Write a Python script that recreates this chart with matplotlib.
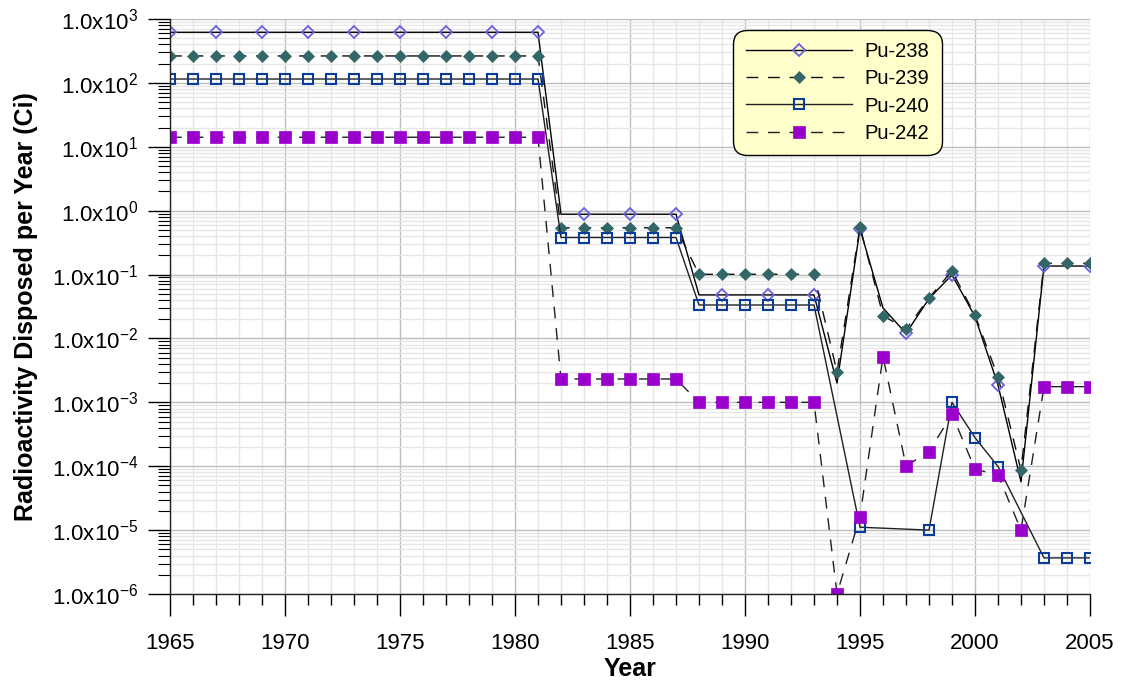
import matplotlib
matplotlib.use('Agg')
import matplotlib.pyplot as plt
from matplotlib.ticker import FixedLocator, LogLocator, FuncFormatter, MultipleLocator, NullFormatter
import numpy as np

plt.rcParams['font.family'] = ['Liberation Sans', 'DejaVu Sans']
plt.rcParams['mathtext.fontset'] = 'custom'
plt.rcParams['mathtext.rm'] = 'Liberation Sans'
plt.rcParams['mathtext.default'] = 'regular'

years = list(range(1965, 2006))

# 1965-1981 (17), 1982-1987 (6), 1988-1993 (6), 1994-2005 (12)
pu238 = [620, 620, 620, 620, 620, 620, 620, 620, 620, 620, 620, 620, 620, 620, 620, 620, 620,
         0.88, 0.88, 0.88, 0.88, 0.88, 0.88,
         0.048, 0.048, 0.048, 0.048, 0.048, 0.048,
         0.0020, 0.52, 0.030, 0.012, 0.042, 0.099, 0.022, 0.00187, 0.000057, 0.136, 0.136, 0.136]
pu239 = [264, 264, 264, 264, 264, 264, 264, 264, 264, 264, 264, 264, 264, 264, 264, 264, 264,
         0.54, 0.54, 0.54, 0.54, 0.54, 0.54,
         0.101, 0.101, 0.101, 0.101, 0.101, 0.101,
         0.0030, 0.56, 0.0228, 0.0139, 0.043, 0.114, 0.023, 0.0025, 0.000087, 0.150, 0.150, 0.150]
pu240 = [115, 115, 115, 115, 115, 115, 115, 115, 115, 115, 115, 115, 115, 115, 115, 115, 115,
         0.38, 0.38, 0.38, 0.38, 0.38, 0.38,
         0.0334, 0.0334, 0.0334, 0.0334, 0.0334, 0.0334,
         None, 1.11e-5, None, None, 1.0e-5, 1.0e-3, 2.8e-4, 9.9e-5, None, 3.67e-6, 3.67e-6, 3.67e-6]
pu242 = [14.1, 14.1, 14.1, 14.1, 14.1, 14.1, 14.1, 14.1, 14.1, 14.1, 14.1, 14.1, 14.1, 14.1, 14.1, 14.1, 14.1,
         0.00232, 0.00232, 0.00232, 0.00232, 0.00232, 0.00232,
         0.0010, 0.0010, 0.0010, 0.0010, 0.0010, 0.0010,
         1.0e-6, 1.63e-5, 5.2e-3, 1.01e-4, 1.69e-4, 6.5e-4, 9.0e-5, 7.3e-5, 1.0e-5, 1.76e-3, 1.76e-3, 1.76e-3]

series_names = ['Pu-238', 'Pu-239', 'Pu-240', 'Pu-242']
x_ticks = [1965, 1970, 1975, 1980, 1985, 1990, 1995, 2000, 2005]
y_exponents = [3, 2, 1, 0, -1, -2, -3, -4, -5, -6]


def valid(xs, ys):
    pts = [(x, y) for x, y in zip(xs, ys) if y is not None]
    return [p[0] for p in pts], [p[1] for p in pts]


fig = plt.figure(figsize=(11.26, 6.81), dpi=100)
ax = fig.add_axes([170 / 1126, 1 - 594 / 681, 920 / 1126, 575 / 681])

dash = (0, (8.5, 7))
ax.plot(*valid(years, pu238), color='#000000', lw=1.0, marker='D', ms=5.8, mfc='none',
        mec='#6a60dc', mew=1.3, markevery=2, label=series_names[0])
ax.plot(*valid(years, pu239), color='#111111', lw=1.0, ls=dash, marker='D', ms=6.2,
        mfc='#336666', mec='#336666', mew=0.5, label=series_names[1])
ax.plot(*valid(years, pu240), color='#202020', lw=1.0, marker='s', ms=7.4, mfc='none',
        mec='#0a3c9c', mew=1.5, label=series_names[2])
ax.plot(*valid(years, pu242), color='#202020', lw=1.0, ls=dash, marker='s', ms=8.0,
        mfc='#9900cc', mec='#9900cc', mew=0.5, label=series_names[3])

ax.set_yscale('log')
ax.set_xlim(1965, 2005)
ax.set_ylim(10.0 ** min(y_exponents), 10.0 ** max(y_exponents))

ax.xaxis.set_major_locator(FixedLocator(x_ticks))
ax.xaxis.set_minor_locator(MultipleLocator(1))
ax.yaxis.set_major_locator(FixedLocator([10.0 ** e for e in y_exponents]))
ax.yaxis.set_minor_locator(LogLocator(base=10, subs=np.arange(2, 10)))
ax.yaxis.set_minor_formatter(NullFormatter())
ax.yaxis.set_major_formatter(FuncFormatter(
    lambda v, p: r'$\mathregular{1.0x10^{%d}}$' % int(round(np.log10(v)))))

ax.grid(which='major', color='#bdbdbd', lw=1.0)
ax.grid(which='minor', color='#e6e6e6', lw=1.0)
ax.set_axisbelow(True)

for s in ['top', 'right']:
    ax.spines[s].set_visible(False)
for s in ['left', 'bottom']:
    ax.spines[s].set_color('#222222')
    ax.spines[s].set_linewidth(1.0)

ax.tick_params(axis='x', which='major', length=16, width=1, pad=12, labelsize=16, colors='black')
ax.tick_params(axis='x', which='minor', length=8, width=1)
ax.tick_params(axis='y', which='major', length=16, width=1, pad=7, labelsize=16)
ax.tick_params(axis='y', which='minor', length=8.5, width=0.8)

ax.set_xlabel('Year', fontsize=18, fontweight='bold')
ax.set_ylabel('Radioactivity Disposed per Year (Ci)', fontsize=18, fontweight='bold')
ax.xaxis.set_label_coords(0.5, -0.11)
ax.yaxis.set_label_coords(-0.143, 0.5)

leg = ax.legend(loc='upper left', bbox_to_anchor=(0.612, 0.981), fontsize=14.5,
                handlelength=5.3, handletextpad=0.6, labelspacing=0.4, borderpad=0.62,
                borderaxespad=0, fancybox=True, framealpha=1, numpoints=1)
frame = leg.get_frame()
frame.set_facecolor('#ffffcc')
frame.set_edgecolor('black')
frame.set_linewidth(1.0)
frame.set_boxstyle('round,pad=0,rounding_size=0.7')

fig.savefig('out.png', dpi=100)
